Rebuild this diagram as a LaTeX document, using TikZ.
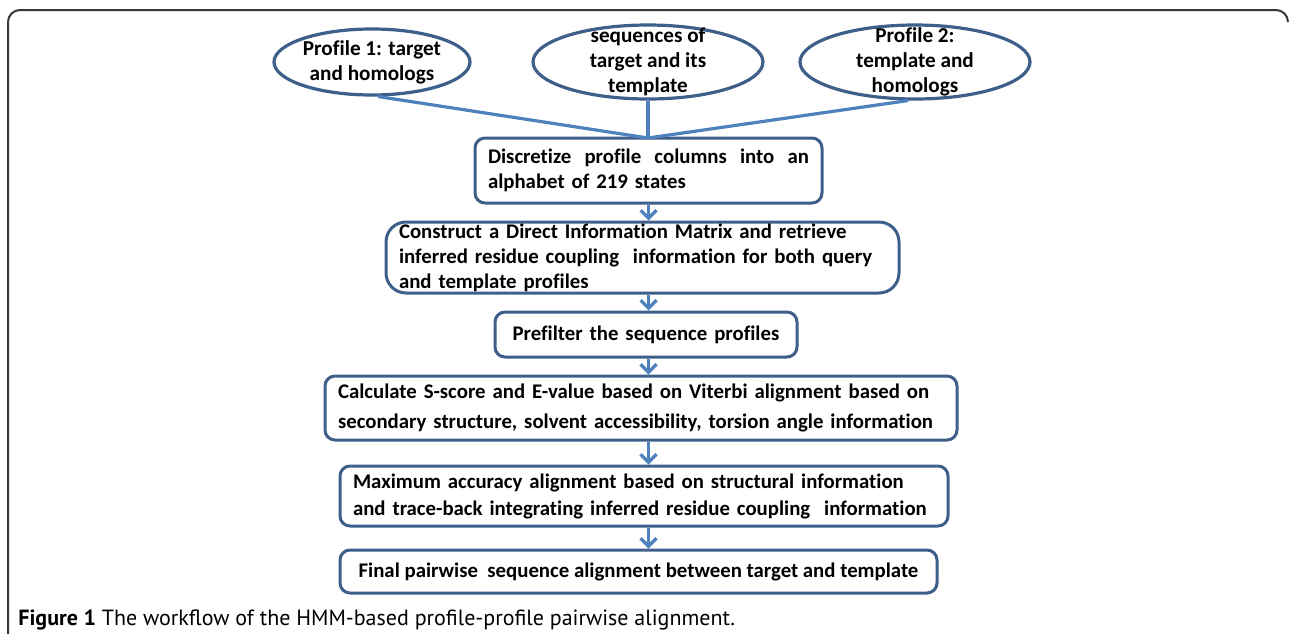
\documentclass[tikz,border=0pt]{standalone}
\usepackage{fontspec}
\setmainfont{Carlito}[Ligatures=NoCommon]
\newfontfamily\capfont{PT Sans}
\usetikzlibrary{shapes.geometric,arrows.meta}
\definecolor{boxblue}{RGB}{62,95,138}
\definecolor{linkblue}{RGB}{79,129,189}
\definecolor{framegray}{RGB}{55,55,55}
\tikzset{
  stepbox/.style={draw=boxblue, line width=1.5pt, rounded corners=5pt, inner xsep=6.5pt, inner ysep=0pt,
    align=left, font=\bfseries\fontsize{10.4}{12.5}\selectfont},
  profile/.style={draw=boxblue, line width=1.6pt, ellipse, inner sep=0pt},
  proftext/.style={align=center, font=\bfseries\fontsize{10.6}{12.5}\selectfont},
  link/.style={draw=linkblue, line width=1.6pt},
  flow/.style={link, -{Straight Barb[length=4pt,width=8pt]}}
}
\begin{document}
\begin{tikzpicture}[x=0.5pt,y=-0.5pt]
  \useasboundingbox (0,0) rectangle (1290,633);
  % frame round the figure
  \draw[framegray, line width=1pt, rounded corners=6pt] (8,645) -- (8,10) -- (1288,10) -- (1288,22);

  % the three inputs
  \node[profile, minimum width=98pt, minimum height=33pt] (prof1) at (372,62) {};
  \node[proftext] (prof1txt) at (prof1) {Profile 1: target\\and homologs};
  \node[profile, minimum width=115pt, minimum height=37pt] (seqs) at (648,62) {};
  \node[proftext] (seqstxt) at (seqs) {sequences of\\target and its\\template};
  \node[profile, minimum width=115pt, minimum height=37pt] (prof2) at (915,62) {};
  \node[proftext] (prof2txt) at (prof2) {Profile 2:\\template and\\homologs};

  % the steps
  \node[stepbox, text width=160.5pt, minimum height=32.5pt] (disc) at (648.5,170.5)
    {Discretize\hfill profile\hfill columns\hfill into\hfill an\\alphabet of 219 states};
  \node[stepbox, rounded corners=10pt, text width=243.5pt, minimum height=35.5pt] (dim) at (642.5,257.5)
    {Construct a Direct Information Matrix and retrieve\\inferred residue coupling\ \ information for both query\\and template profiles};
  \node[stepbox, align=center, text width=138pt, minimum height=22.5pt] (pre) at (646,334.5)
    {Prefilter the sequence profiles};
  \node[stepbox, text width=303pt, minimum height=32pt, font=\bfseries\fontsize{10.4}{15}\selectfont] (score) at (641,408)
    {Calculate S-score and E-value based on Viterbi alignment based on\\secondary structure, solvent accessibility, torsion angle information};
  \node[stepbox, text width=291pt, minimum height=30pt, font=\bfseries\fontsize{10.4}{13.5}\selectfont] (maxacc) at (644,496)
    {Maximum accuracy alignment based on structural information\\and trace-back integrating inferred residue coupling\ \ information};
  \node[stepbox, minimum width=298.5pt, minimum height=21.5pt] (final) at (638.5,571.5)
    {Final pairwise\ \ sequence alignment between target and template};

  % connectors
  \coordinate (join) at (648,138);
  \draw[link] (prof1.-80) -- (join);
  \draw[link] (seqs.south) -- (join);
  \draw[link] (prof2.-100) -- (join);
  \draw[flow] (disc.south) -- (disc.south |- dim.north);
  \draw[flow] (disc.south |- dim.south) -- (disc.south |- pre.north);
  \draw[flow] (disc.south |- pre.south) -- (disc.south |- score.north);
  \draw[flow] (disc.south |- score.south) -- (disc.south |- maxacc.north);
  \draw[flow] (disc.south |- maxacc.south) -- (disc.south |- final.north);

  % caption
  \node[anchor=base west, inner sep=0pt, font=\capfont\fontsize{11}{13}\selectfont] (caption) at (18,625)
    {\textbf{Figure 1} The workflow of the HMM-based profile-profile pairwise alignment.};
\end{tikzpicture}
\end{document}
